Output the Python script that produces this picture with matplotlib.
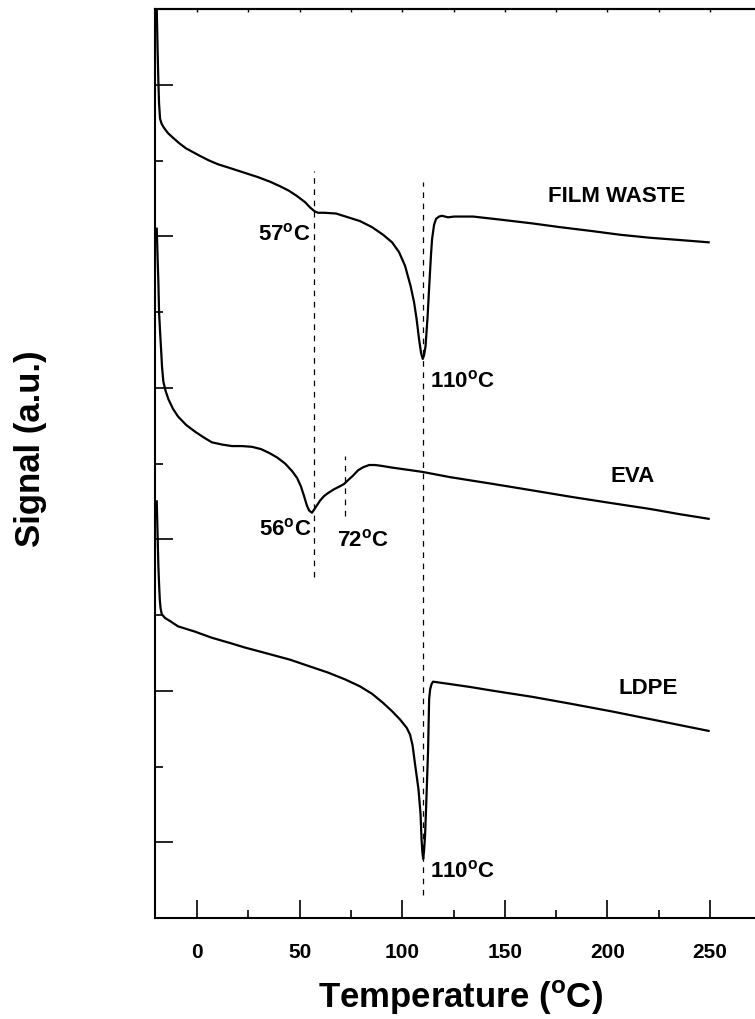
import matplotlib
matplotlib.use('Agg')
import matplotlib.pyplot as plt
from matplotlib.ticker import MultipleLocator

plt.rcParams['font.family'] = ['Liberation Sans', 'DejaVu Sans']
plt.rcParams['font.weight'] = 'bold'
plt.rcParams['mathtext.fontset'] = 'custom'
plt.rcParams['mathtext.rm'] = 'Liberation Sans'
plt.rcParams['mathtext.bf'] = 'Liberation Sans:bold'

# DSC traces, temperature in degC and signal in arbitrary units
film_T = [-19.64, -19.25, -18.86, -18.52, -18.03, -17.2, -16.08, -14.13, -11.70, -8.77,
          -5.36, -1.95, 1.46, 5.85, 10.23, 16.08, 22.9, 29.73, 35.58, 40.45,
          44.83, 48.73, 52.63, 55.07, 57.26, 58.97, 61.89, 67.74, 73.59, 79.43,
          85.28, 90.64, 95.03, 98.44, 101.36, 104.09, 105.75, 106.97, 108.19, 109.16,
          110.0, 110.62, 111.35, 112.33, 113.26, 114.04, 114.52, 115.5, 116.47, 117.93,
          119.4, 122.32, 125.24, 129.63, 134.5, 147.66, 163.26, 176.9, 192.0, 206.14,
          220.76, 235.38, 249.32]
film_S = [12.0, 11.47, 11.04, 10.75, 10.55, 10.48, 10.43, 10.36, 10.30, 10.23,
          10.16, 10.11, 10.06, 10.00, 9.95, 9.90, 9.84, 9.78, 9.72, 9.66,
          9.60, 9.53, 9.45, 9.38, 9.33, 9.31, 9.31, 9.30, 9.25, 9.20,
          9.12, 9.02, 8.92, 8.79, 8.61, 8.34, 8.13, 7.91, 7.64, 7.46,
          7.38, 7.43, 7.55, 7.93, 8.40, 8.77, 8.96, 9.15, 9.23, 9.26,
          9.27, 9.25, 9.26, 9.26, 9.26, 9.22, 9.17, 9.12, 9.07, 9.02,
          8.98, 8.95, 8.92]

eva_T = [-19.64, -19.25, -18.86, -18.52, -18.03, -17.54, -17.06, -16.42, -15.35, -13.99,
         -11.7, -9.26, -5.36, -0.97, 2.92, 7.16, 12.18, 17.06, 21.93, 26.8,
         31.19, 35.09, 38.99, 42.88, 46.3, 48.73, 50.58, 52.14, 53.46, 54.58,
         56.0, 56.77, 58.24, 59.94, 61.89, 63.84, 66.76, 69.69, 71.64, 73.59,
         76.02, 78.46, 80.9, 83.82, 86.74, 89.67, 94.05, 109.65, 123.29, 144.25,
         162.28, 182.26, 201.27, 220.76, 235.38, 249.32]
eva_S = [9.10, 8.73, 8.40, 8.00, 7.74, 7.51, 7.27, 7.08, 6.96, 6.85,
         6.72, 6.62, 6.51, 6.42, 6.35, 6.28, 6.25, 6.23, 6.23, 6.22,
         6.19, 6.14, 6.08, 6.00, 5.90, 5.81, 5.70, 5.57, 5.45, 5.38,
         5.35, 5.38, 5.44, 5.51, 5.57, 5.61, 5.66, 5.70, 5.73, 5.78,
         5.84, 5.91, 5.95, 5.98, 5.98, 5.97, 5.95, 5.89, 5.82, 5.73,
         5.65, 5.56, 5.48, 5.40, 5.33, 5.27]

ldpe_T = [-19.64, -19.25, -18.86, -18.52, -18.18, -17.79, -17.2, -15.59, -13.16, -9.26,
          -0.97, 7.16, 16.08, 23.39, 31.68, 45.32, 55.07, 63.84, 72.12, 79.24,
          85.28, 90.64, 95.03, 98.93, 102.19, 103.8, 105.02, 106.24, 107.9, 108.92,
          109.4, 109.8, 110.2, 110.6, 111.1, 111.6, 112.1, 112.6, 112.9, 113.1,
          113.6, 114.3, 115.0, 122.8, 133.0, 144.25, 163.3, 181.8, 201.6, 225.5,
          249.3]
ldpe_S = [5.50, 5.07, 4.65, 4.41, 4.21, 4.09, 4.01, 3.96, 3.92, 3.85,
          3.78, 3.70, 3.63, 3.57, 3.51, 3.41, 3.32, 3.24, 3.15, 3.06,
          2.96, 2.84, 2.73, 2.62, 2.51, 2.42, 2.28, 2.03, 1.70, 1.37,
          1.04, 0.87, 0.78, 0.88, 1.08, 1.44, 1.83, 2.23, 2.63, 2.89,
          3.02, 3.09, 3.12, 3.09, 3.05, 3.00, 2.92, 2.83, 2.73, 2.60,
          2.47]

# peak marker lines: (temperature, signal from, signal to)
peak_lines = [(57, 4.50, 9.86), (110, 0.30, 9.72), (72, 5.31, 6.10)]

# annotations: (text, x, y, horizontal alignment)
notes = [
    ('FILM WASTE', 171.1, 9.47, 'left'),
    (r'57$^{\mathbf{o}}$C', 55.1, 8.96, 'right'),
    (r'110$^{\mathbf{o}}$C', 113.5, 7.02, 'left'),
    ('EVA', 201.6, 5.77, 'left'),
    (r'56$^{\mathbf{o}}$C', 55.9, 5.07, 'right'),
    (r'72$^{\mathbf{o}}$C', 68.1, 4.92, 'left'),
    ('LDPE', 205.2, 2.97, 'left'),
    (r'110$^{\mathbf{o}}$C', 113.5, 0.55, 'left'),
]

fig = plt.figure(figsize=(7.55, 10.2), dpi=100)
ax = fig.add_axes([155 / 755, 101 / 1020, 616.6 / 755, 909 / 1020])

for T, S in [(film_T, film_S), (eva_T, eva_S), (ldpe_T, ldpe_S)]:
    ax.plot(T, S, color='black', lw=1.6, solid_joinstyle='round')

for t, y0, y1 in peak_lines:
    ax.plot([t, t], [y0, y1], color='black', lw=0.9, linestyle=(0, (4.5, 4.5)))

for txt, x, y, ha in notes:
    ax.text(x, y, txt, ha=ha, va='baseline', fontsize=16, fontweight='bold')

ax.set_xlim(-20.5, 280)
ax.set_ylim(0, 12)
ax.set_xticks([0, 50, 100, 150, 200, 250])
ax.xaxis.set_minor_locator(MultipleLocator(25))
ax.set_yticks([1, 3, 5, 7, 9, 11])
ax.set_yticks([2, 4, 6, 8, 10], minor=True)
ax.set_yticklabels([])

ax.tick_params(axis='both', which='major', direction='in', length=13, width=1.2,
               labelsize=15, pad=17, top=False, right=False)
ax.tick_params(axis='both', which='minor', direction='in', length=6, width=1.2,
               top=False, right=False)
for lab in ax.get_xticklabels():
    lab.set_fontweight('bold')

for sp in ax.spines.values():
    sp.set_linewidth(1.5)

top = ax.secondary_xaxis('top')
top.set_xticks(range(0, 251, 25))
top.tick_params(direction='in', length=2.5, width=1.0, labeltop=False)
top.spines['top'].set_linewidth(1.5)

fig.text(460 / 755, 12 / 1020, r'Temperature ($^{\mathbf{o}}$C)', ha='center', va='baseline',
         fontsize=25, fontweight='bold')
fig.text(31 / 755, 1 - 449 / 1020, 'Signal (a.u.)', ha='center', va='center',
         rotation=90, fontsize=25, fontweight='bold')

fig.savefig('out.png', dpi=100)
